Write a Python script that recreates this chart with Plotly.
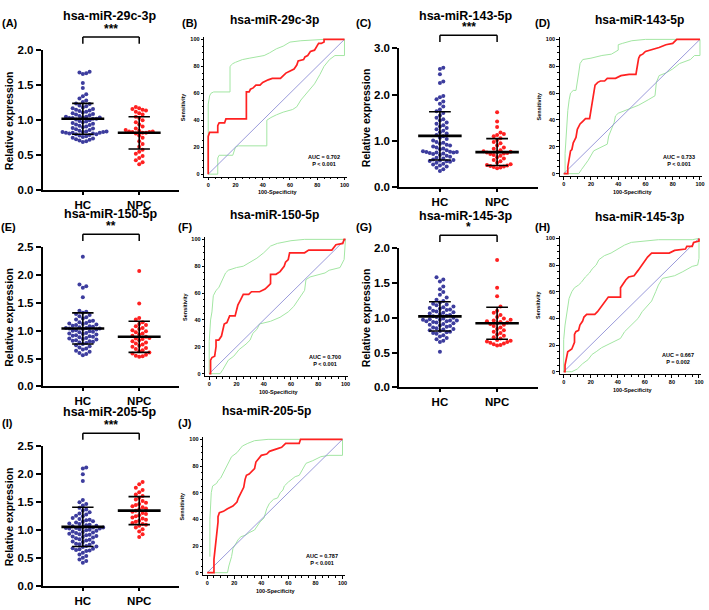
import plotly.graph_objects as go

W, H = 709, 610

# ---------- dot plots: relative expression (HC vs NPC) ----------
groups = ['HC', 'NPC']

a_hc = [1.69, 1.68, 1.67, 1.66, 1.53, 1.46, 1.37, 1.34, 1.31, 1.28, 1.26, 1.24, 1.23, 1.21, 1.20, 1.18,
        1.17, 1.16, 1.15, 1.14, 1.13, 1.12, 1.11, 1.10, 1.09, 1.08, 1.07, 1.06, 1.05, 1.05, 1.04, 1.04,
        1.03, 1.03, 1.02, 1.02, 1.01, 1.00, 0.99, 0.98, 0.97, 0.96, 0.95, 0.94, 0.93, 0.92, 0.91, 0.90,
        0.89, 0.88, 0.87, 0.86, 0.85, 0.84, 0.84, 0.83, 0.83, 0.83, 0.82, 0.82, 0.82, 0.81, 0.81, 0.80,
        0.80, 0.79, 0.78, 0.77, 0.76, 0.75, 0.74, 0.73, 0.72, 0.71, 0.70, 0.69]
a_npc = [1.19, 1.17, 1.16, 1.15, 1.14, 1.12, 1.10, 1.08, 1.05, 1.03, 1.00, 0.97, 0.94, 0.91, 0.88, 0.86,
         0.85, 0.84, 0.84, 0.83, 0.83, 0.82, 0.82, 0.81, 0.78, 0.75, 0.70, 0.66, 0.62, 0.58, 0.55, 0.52,
         0.49, 0.46, 0.43, 0.40, 0.37]

c_hc = [2.58, 2.55, 2.44, 2.28, 2.25, 1.97, 1.94, 1.90, 1.85, 1.80, 1.74, 1.68, 1.64, 1.60, 1.55, 1.50,
        1.47, 1.44, 1.40, 1.37, 1.34, 1.31, 1.28, 1.25, 1.22, 1.19, 1.16, 1.13, 1.10, 1.07, 1.04, 1.01,
        0.98, 0.96, 0.94, 0.92, 0.90, 0.88, 0.86, 0.84, 0.82, 0.80, 0.78, 0.77, 0.76, 0.76, 0.75, 0.75,
        0.74, 0.73, 0.72, 0.70, 0.68, 0.66, 0.64, 0.62, 0.60, 0.59, 0.58, 0.57, 0.56, 0.55, 0.53, 0.51,
        0.49, 0.47, 0.45, 0.42, 0.39, 0.35]
c_npc = [1.62, 1.42, 1.30, 1.18, 1.15, 1.13, 1.10, 1.06, 1.02, 0.98, 0.95, 0.90, 0.86, 0.83, 0.80, 0.78,
         0.77, 0.76, 0.75, 0.74, 0.73, 0.72, 0.70, 0.68, 0.65, 0.62, 0.59, 0.56, 0.53, 0.50, 0.48, 0.47,
         0.46, 0.45, 0.44, 0.43, 0.41]

e_hc = [2.33, 1.83, 1.80, 1.77, 1.60, 1.36, 1.34, 1.32, 1.30, 1.28, 1.26, 1.24, 1.22, 1.20, 1.18, 1.17,
        1.15, 1.14, 1.13, 1.12, 1.11, 1.10, 1.09, 1.08, 1.07, 1.06, 1.05, 1.05, 1.04, 1.04, 1.03, 1.02,
        1.01, 1.00, 0.99, 0.98, 0.97, 0.96, 0.95, 0.94, 0.93, 0.92, 0.91, 0.90, 0.89, 0.88, 0.87, 0.86,
        0.85, 0.84, 0.83, 0.82, 0.81, 0.80, 0.79, 0.78, 0.76, 0.74, 0.72, 0.70, 0.68, 0.66, 0.64, 0.62,
        0.60, 0.58, 0.56]
e_npc = [2.07, 1.49, 1.23, 1.20, 1.15, 1.12, 1.10, 1.08, 1.05, 1.03, 1.01, 0.99, 0.97, 0.95, 0.93, 0.91,
         0.89, 0.87, 0.86, 0.85, 0.83, 0.81, 0.79, 0.77, 0.75, 0.73, 0.71, 0.69, 0.67, 0.65, 0.63, 0.61,
         0.59, 0.57, 0.55, 0.54, 0.53]

g_hc = [1.58, 1.55, 1.52, 1.45, 1.41, 1.37, 1.33, 1.29, 1.26, 1.24, 1.22, 1.20, 1.19, 1.18, 1.16, 1.15,
        1.14, 1.13, 1.12, 1.11, 1.10, 1.09, 1.08, 1.07, 1.06, 1.05, 1.04, 1.03, 1.02, 1.01, 1.00, 0.99,
        0.98, 0.97, 0.97, 0.96, 0.96, 0.95, 0.95, 0.94, 0.93, 0.92, 0.91, 0.90, 0.89, 0.88, 0.87, 0.86,
        0.85, 0.84, 0.83, 0.82, 0.81, 0.80, 0.79, 0.78, 0.77, 0.75, 0.73, 0.71, 0.69, 0.67, 0.65, 0.51]
g_npc = [1.83, 1.43, 1.31, 1.16, 1.10, 1.07, 1.04, 1.01, 0.99, 0.97, 0.96, 0.95, 0.94, 0.93, 0.92, 0.91,
         0.90, 0.88, 0.86, 0.84, 0.82, 0.80, 0.78, 0.76, 0.74, 0.72, 0.70, 0.68, 0.67, 0.66, 0.65, 0.64,
         0.63, 0.62, 0.61, 0.60]

i_hc = [2.12, 2.10, 2.00, 1.88, 1.54, 1.50, 1.47, 1.44, 1.40, 1.37, 1.35, 1.32, 1.30, 1.28, 1.26, 1.25,
        1.22, 1.20, 1.19, 1.18, 1.16, 1.15, 1.14, 1.12, 1.11, 1.10, 1.09, 1.08, 1.07, 1.06, 1.05, 1.05,
        1.04, 1.04, 1.03, 1.03, 1.02, 1.01, 1.00, 0.99, 0.98, 0.97, 0.96, 0.95, 0.94, 0.93, 0.92, 0.91,
        0.90, 0.89, 0.88, 0.87, 0.86, 0.84, 0.83, 0.82, 0.80, 0.79, 0.78, 0.76, 0.75, 0.74, 0.72, 0.71,
        0.70, 0.68, 0.67, 0.66, 0.65, 0.64, 0.63, 0.60, 0.57, 0.54, 0.51, 0.48, 0.45, 0.42]
i_npc = [1.86, 1.82, 1.76, 1.72, 1.68, 1.64, 1.61, 1.58, 1.55, 1.52, 1.49, 1.47, 1.45, 1.43, 1.41, 1.39,
         1.37, 1.35, 1.33, 1.31, 1.29, 1.27, 1.25, 1.23, 1.21, 1.19, 1.17, 1.15, 1.13, 1.11, 1.10, 1.08,
         1.05, 1.02, 0.98, 0.93, 0.88]

# mean and SD (HC, NPC)
a_mean, a_sd = [1.02, 0.82], [0.22, 0.23]
c_mean, c_sd = [1.11, 0.76], [0.52, 0.29]
e_mean, e_sd = [1.04, 0.89], [0.28, 0.28]
g_mean, g_sd = [1.02, 0.92], [0.21, 0.23]
i_mean, i_sd = [1.06, 1.35], [0.35, 0.25]

# ---------- ROC curves (100-Specificity, Sensitivity) ----------
b_roc = [(0, 0), (0, 28), (1, 31), (7, 31), (7, 36), (8, 38), (12, 38), (13, 41), (28, 41), (28, 61),
         (30, 61), (31, 63), (33, 64), (35, 66), (38, 66), (40, 68), (44, 70), (47, 71), (53, 71),
         (55, 73), (57, 75), (59, 76), (61, 77), (63, 78), (65, 81), (66, 84), (70, 85), (71, 87),
         (73, 88), (75, 91), (78, 92), (80, 95), (81, 97), (83, 97), (85, 98), (85, 100), (100, 100)]
b_upper = [(0, 0), (0, 52), (1, 58), (2, 60), (4, 61), (16, 61), (16, 80), (18, 82), (20, 83), (25, 85),
           (30, 86), (37, 87), (41, 88), (45, 90), (50, 93), (55, 95), (60, 98), (68, 99), (85, 100),
           (100, 100)]
b_lower = [(0, 0), (7, 0), (7, 12), (8, 14), (18, 14), (19, 18), (20, 20), (22, 21), (43, 21), (43, 40),
           (46, 42), (50, 44), (55, 46), (62, 48), (65, 50), (68, 55), (72, 60), (78, 67), (82, 74),
           (85, 80), (89, 85), (93, 88), (100, 88), (100, 100)]

d_roc = [(0, 0), (3, 0), (3, 5), (4, 10), (5, 17), (6, 18), (7, 23), (8, 25), (9, 27), (10, 33), (12, 37),
         (14, 39), (16, 41), (19, 41), (20, 47), (21, 56), (22, 62), (23, 66), (25, 68), (27, 69),
         (30, 69), (32, 71), (38, 71), (42, 73), (48, 74), (53, 74), (54, 80), (55, 86), (56, 88),
         (58, 89), (60, 91), (67, 93), (70, 94), (75, 96), (80, 97), (83, 100), (100, 100)]
d_upper = [(0, 0), (1, 0), (1, 15), (2, 35), (3, 47), (4, 55), (5, 60), (7, 62), (9, 62), (11, 75),
           (12, 82), (14, 85), (20, 86), (28, 88), (35, 89), (40, 92), (40, 96), (43, 97), (50, 99),
           (60, 100), (100, 100)]
d_lower = [(0, 0), (11, 0), (13, 3), (15, 6), (18, 10), (22, 17), (28, 20), (32, 22), (33, 28), (35, 33),
           (37, 38), (38, 43), (40, 45), (45, 47), (55, 51), (62, 55), (67, 58), (68, 68), (70, 73),
           (75, 75), (80, 78), (85, 82), (93, 85), (96, 88), (100, 88), (100, 100)]

f_roc = [(0, 0), (1, 0), (1, 10), (2, 12), (4, 13), (5, 20), (5, 25), (7, 25), (9, 28), (10, 33),
         (11, 37), (13, 38), (14, 40), (15, 43), (19, 43), (20, 47), (21, 51), (23, 55), (25, 59),
         (29, 59), (31, 61), (37, 61), (41, 63), (44, 66), (45, 67), (45, 74), (49, 74), (52, 76),
         (55, 80), (56, 83), (58, 85), (59, 90), (70, 90), (73, 92), (90, 92), (93, 96), (98, 97),
         (99, 100), (100, 100)]
f_upper = [(0, 0), (0, 24), (1, 40), (2, 46), (3, 58), (5, 62), (7, 64), (9, 68), (11, 72), (12, 75),
           (14, 77), (17, 78), (20, 79), (25, 80), (30, 83), (35, 86), (40, 90), (45, 95), (50, 97),
           (60, 99), (70, 100), (95, 100), (100, 100)]
f_lower = [(0, 0), (8, 0), (10, 3), (12, 7), (14, 10), (18, 13), (22, 18), (27, 22), (30, 25), (32, 30),
           (35, 33), (37, 37), (45, 39), (52, 42), (58, 46), (62, 50), (67, 57), (70, 62), (71, 70),
           (74, 72), (85, 75), (88, 77), (96, 79), (99, 85), (100, 100)]

h_roc = [(0, 0), (1, 0), (1, 5), (2, 10), (3, 15), (6, 17), (7, 20), (8, 22), (8, 28), (9, 30), (11, 31),
         (12, 35), (14, 38), (15, 41), (17, 43), (23, 43), (25, 45), (28, 49), (30, 52), (33, 56),
         (42, 56), (42, 63), (44, 66), (46, 69), (48, 71), (52, 72), (55, 76), (57, 79), (59, 82),
         (62, 86), (65, 89), (78, 89), (82, 91), (90, 92), (91, 94), (95, 94), (96, 97), (100, 98),
         (100, 100)]
h_upper = [(0, 0), (0, 24), (1, 35), (2, 43), (3, 50), (4, 55), (6, 60), (8, 63), (11, 65), (13, 67),
           (16, 71), (19, 74), (21, 77), (24, 80), (26, 84), (30, 87), (35, 89), (40, 92), (45, 95),
           (50, 97), (60, 98), (70, 99), (95, 99), (100, 100)]
h_lower = [(0, 0), (6, 0), (10, 2), (14, 6), (18, 9), (21, 13), (24, 15), (28, 18), (32, 20), (38, 23),
           (42, 25), (45, 30), (50, 35), (55, 40), (58, 45), (62, 50), (65, 53), (68, 60), (70, 65),
           (73, 70), (82, 72), (88, 75), (95, 79), (99, 80), (100, 85), (100, 100)]

j_roc = [(0, 0), (5, 0), (5, 10), (6, 20), (7, 25), (8, 38), (8, 42), (9, 45), (12, 46), (15, 48),
         (19, 50), (22, 53), (23, 56), (25, 60), (26, 62), (27, 64), (28, 70), (29, 73), (31, 74),
         (33, 76), (35, 78), (36, 83), (38, 86), (40, 88), (44, 89), (46, 91), (52, 93), (55, 94),
         (58, 97), (68, 97), (69, 100), (100, 100)]
j_upper = [(2, 12), (2, 40), (3, 60), (4, 65), (7, 67), (8, 69), (10, 71), (12, 75), (13, 77), (14, 80),
           (16, 83), (18, 87), (22, 90), (26, 95), (30, 97), (35, 99), (45, 100), (100, 100)]
j_lower = [(0, 0), (15, 0), (16, 5), (18, 12), (19, 18), (21, 22), (23, 25), (25, 27), (28, 28), (31, 30),
           (35, 32), (37, 35), (39, 38), (42, 41), (44, 48), (46, 52), (49, 55), (52, 56), (54, 60),
           (56, 62), (57, 65), (60, 68), (63, 70), (65, 72), (68, 73), (71, 78), (73, 82), (78, 84),
           (84, 87), (90, 88), (100, 88), (100, 100)]

chance = [0, 100]

BLUE = '#3d3d9e'
RED = '#ff2121'
GREEN = '#a3e6a3'
DIAG = '#8f8fd6'
FONT = 'Arial'

XR = [0.29, 2.71]
ROC_X = [-3, 101.5]
ROC_Y = [-1.8, 101.5]

def px_x(px):
    return px / W

def px_y(py):
    return 1 - py / H

# panel layout: box = (left, right, top, bottom) in pixels
dot_panels = [
    dict(label='(A)', title='hsa-miR-29c-3p', hc=a_hc, npc=a_npc, mean=a_mean, sd=a_sd, stars='***',
         ymax=2.0, dtick=0.5, box=(43, 180, 45, 188), title_xy=(110, 10), label_xy=(10, 17)),
    dict(label='(C)', title='hsa-miR-143-5p', hc=c_hc, npc=c_npc, mean=c_mean, sd=c_sd, stars='***',
         ymax=3.0, dtick=1.0, box=(401, 540, 43, 185), title_xy=(467, 10), label_xy=(366, 17)),
    dict(label='(E)', title='hsa-miR-150-5p', hc=e_hc, npc=e_npc, mean=e_mean, sd=e_sd, stars='**',
         ymax=2.5, dtick=0.5, box=(43, 180, 246, 388), title_xy=(111, 212), label_xy=(9, 225)),
    dict(label='(G)', title='hsa-miR-145-3p', hc=g_hc, npc=g_npc, mean=g_mean, sd=g_sd, stars='*',
         ymax=2.0, dtick=0.5, box=(401, 540, 247, 389), title_xy=(467, 214), label_xy=(366, 225)),
    dict(label='(I)', title='hsa-miR-205-5p', hc=i_hc, npc=i_npc, mean=i_mean, sd=i_sd, stars='***',
         ymax=2.5, dtick=0.5, box=(43, 180, 449, 592), title_xy=(110, 414), label_xy=(8, 425)),
]

roc_panels = [
    dict(label='(B)', title='hsa-miR-29c-3p', roc=b_roc, up=b_upper, lo=b_lower,
         auc='AUC = 0.702', p='P < 0.001', box=(205, 348, 32, 174), title_xy=(276, 14), label_xy=(191, 17)),
    dict(label='(D)', title='hsa-miR-143-5p', roc=d_roc, up=d_upper, lo=d_lower,
         auc='AUC = 0.733', p='P < 0.001', box=(562, 705, 32, 173.5), title_xy=(642, 14), label_xy=(545, 17)),
    dict(label='(F)', title='hsa-miR-150-5p', roc=f_roc, up=f_upper, lo=f_lower,
         auc='AUC = 0.700', p='P < 0.001', box=(206, 349, 236, 377.5), title_xy=(276, 213), label_xy=(186, 225)),
    dict(label='(H)', title='hsa-miR-145-3p', roc=h_roc, up=h_upper, lo=h_lower,
         auc='AUC = 0.667', p='P = 0.002', box=(562, 704, 235, 375.5), title_xy=(642, 215), label_xy=(545, 225)),
    dict(label='(J)', title='hsa-miR-205-5p', roc=j_roc, up=j_upper, lo=j_lower,
         auc='AUC = 0.787', p='P < 0.001', box=(204, 346, 440, 580.5), title_xy=(268, 413), label_xy=(186, 425)),
]


def swarm(vals, center, ymax, box):
    # spread points sideways so they do not overlap (GraphPad-style scatter)
    x0, x1, yt, yb = box
    y_per_px = ymax / (yb - yt)
    x_per_px = (XR[1] - XR[0]) / (x1 - x0)
    step, gap = 3.4, 5.0
    slots = [0]
    for k in range(1, 30):
        slots += [k, -k]
    placed = []
    xs = [0.0] * len(vals)
    for i in sorted(range(len(vals)), key=lambda k: vals[k]):
        ypx = vals[i] / y_per_px
        for s in slots:
            if all(not (ps == s and abs(py - ypx) < gap) for ps, py in placed):
                break
        placed.append((s, ypx))
        xs[i] = center + s * step * x_per_px
    return xs


def ax_ids(n):
    suf = '' if n == 1 else str(n)
    return 'x' + suf, 'y' + suf, 'xaxis' + suf, 'yaxis' + suf


def text_at(px, py, text, size, angle=0):
    return dict(x=px_x(px), y=px_y(py), xref='paper', yref='paper', text=text, textangle=angle,
                showarrow=False, xanchor='center', yanchor='middle',
                font=dict(family=FONT, size=size, color='black'))


fig = go.Figure()
annotations = []
shapes = []
n = 0

for p in dot_panels:
    n += 1
    xa, ya, xkey, ykey = ax_ids(n)
    x0, x1, yt, yb = p['box']
    for gi, (vals, col) in enumerate([(p['hc'], BLUE), (p['npc'], RED)]):
        fig.add_trace(go.Scatter(x=swarm(vals, gi + 1, p['ymax'], p['box']), y=vals, mode='markers',
                                 marker=dict(color=col, size=4, line=dict(width=0)),
                                 xaxis=xa, yaxis=ya, showlegend=False, hoverinfo='skip'))
    # mean line
    mx, my = [], []
    for gi, m in enumerate(p['mean']):
        mx += [gi + 1 - 0.38, gi + 1 + 0.38, None]
        my += [m, m, None]
    # SD whiskers with caps
    sx, sy = [], []
    for gi, (m, s) in enumerate(zip(p['mean'], p['sd'])):
        c = gi + 1
        sx += [c, c, None, c - 0.19, c + 0.19, None, c - 0.19, c + 0.19, None]
        sy += [m - s, m + s, None, m + s, m + s, None, m - s, m - s, None]
    fig.add_trace(go.Scatter(x=sx, y=sy, mode='lines', line=dict(color='black', width=1.6),
                             xaxis=xa, yaxis=ya, showlegend=False, hoverinfo='skip'))
    fig.add_trace(go.Scatter(x=mx, y=my, mode='lines', line=dict(color='black', width=2.6),
                             xaxis=xa, yaxis=ya, showlegend=False, hoverinfo='skip'))

    fig.update_layout(**{
        xkey: dict(domain=[px_x(x0), px_x(x1)], range=XR, anchor=ya,
                   tickvals=[1, 2], ticktext=groups, showline=True, linewidth=2,
                   linecolor='black', ticks='outside', ticklen=3, tickwidth=2,
                   tickcolor='black', showgrid=False, zeroline=False,
                   tickfont=dict(family=FONT, size=11.5, color='black', weight='bold')),
        ykey: dict(domain=[px_y(yb), px_y(yt)], range=[0, p['ymax']], anchor=xa,
                   dtick=p['dtick'], tickformat='.1f', showline=True, linewidth=2,
                   linecolor='black', ticks='outside', ticklen=5, tickwidth=2,
                   tickcolor='black', showgrid=False, zeroline=False,
                   tickfont=dict(family=FONT, size=11.5, color='black', weight='bold')),
    })

    # significance bracket
    yref = ya + ' domain'
    for sh in [(1, 1.045, 1, 1.093), (1, 1.093, 2, 1.093), (2, 1.093, 2, 1.045)]:
        shapes.append(dict(type='line', xref=xa, yref=yref, x0=sh[0], y0=sh[1], x1=sh[2], y1=sh[3],
                           line=dict(color='black', width=1.5)))
    annotations.append(dict(x=1.5, y=1.085, xref=xa, yref=yref, text='<b>%s</b>' % p['stars'],
                            showarrow=False, xanchor='center', yanchor='bottom',
                            font=dict(family=FONT, size=12, color='black')))
    annotations.append(text_at(x0 - 34, (yt + yb) / 2, '<b>Relative expression</b>', 10.5, -90))
    annotations.append(text_at(*p['title_xy'], '<b>%s</b>' % p['title'], 12.5))
    annotations.append(text_at(*p['label_xy'], '<b>%s</b>' % p['label'], 11))

for p in roc_panels:
    n += 1
    xa, ya, xkey, ykey = ax_ids(n)
    x0, x1, yt, yb = p['box']
    for curve in [p['up'], p['lo']]:
        fig.add_trace(go.Scatter(x=[c[0] for c in curve], y=[c[1] for c in curve], mode='lines',
                                 line=dict(color=GREEN, width=1), xaxis=xa, yaxis=ya,
                                 showlegend=False, hoverinfo='skip'))
    fig.add_trace(go.Scatter(x=chance, y=chance, mode='lines', line=dict(color=DIAG, width=0.9),
                             xaxis=xa, yaxis=ya, showlegend=False, hoverinfo='skip'))
    fig.add_trace(go.Scatter(x=[c[0] for c in p['roc']], y=[c[1] for c in p['roc']], mode='lines',
                             line=dict(color=RED, width=1.7), xaxis=xa, yaxis=ya,
                             showlegend=False, hoverinfo='skip'))
    ax_style = dict(showline=True, linewidth=1, linecolor='black', ticks='outside', ticklen=2.5,
                    tickwidth=1, tickcolor='black', showgrid=False, zeroline=False,
                    tick0=0, dtick=20,
                    minor=dict(dtick=5, ticks='outside', ticklen=1.5, tickwidth=0.8, tickcolor='black'),
                    tickfont=dict(family=FONT, size=5.5, color='black', weight='bold'))
    fig.update_layout(**{
        xkey: dict(domain=[px_x(x0), px_x(x1)], range=ROC_X, anchor=ya, **ax_style),
        ykey: dict(domain=[px_y(yb), px_y(yt)], range=ROC_Y, anchor=xa, **ax_style),
    })
    annotations.append(dict(x=98, y=10, xref=xa, yref=ya, showarrow=False, xanchor='right', yanchor='middle',
                            text='<b>%s</b><br><b>%s</b>' % (p['auc'], p['p']), align='center',
                            font=dict(family=FONT, size=5.5, color='black')))
    annotations.append(text_at(x0 - 21, (yt + yb) / 2, '<b>Sensitivity</b>', 5.5, -90))
    annotations.append(text_at((x0 + x1) / 2 + 2, yb + 16, '<b>100-Specificity</b>', 5.5))
    annotations.append(text_at(*p['title_xy'], '<b>%s</b>' % p['title'], 12))
    annotations.append(text_at(*p['label_xy'], '<b>%s</b>' % p['label'], 11))

fig.update_layout(width=W, height=H, margin=dict(l=0, r=0, t=0, b=0),
                  paper_bgcolor='white', plot_bgcolor='white',
                  annotations=annotations, shapes=shapes, showlegend=False)

# drop the default page margin so the 709x610 figure sits flush in the window
fig.write_html("out.html", config={'displayModeBar': False},
               post_script="document.body.style.margin='0';")
